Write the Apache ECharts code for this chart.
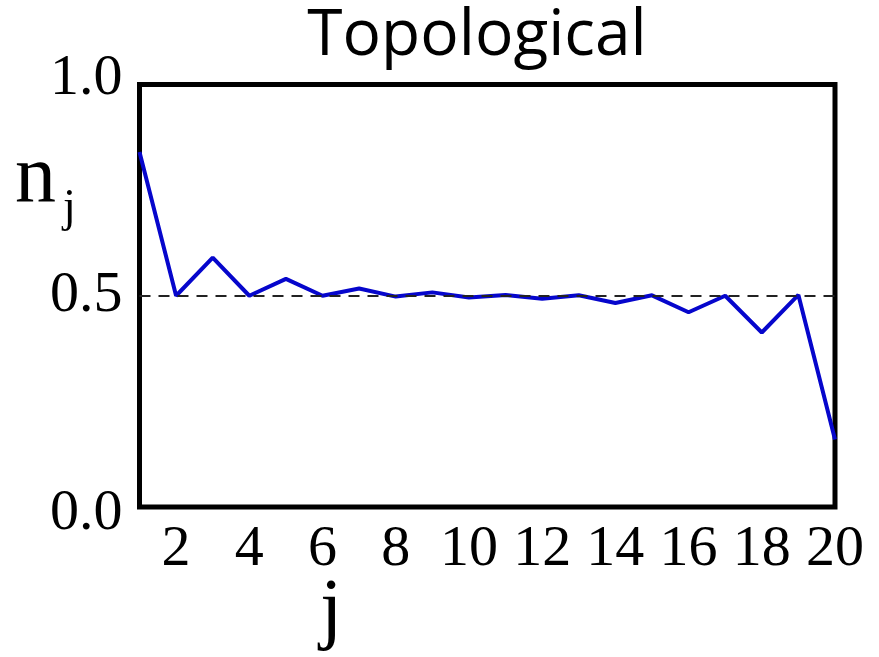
<!DOCTYPE html>
<html>
<head>
<meta charset="utf-8">
<script src="https://cdn.jsdelivr.net/npm/echarts@6/dist/echarts.min.js"></script>
<style>
  html, body { margin: 0; padding: 0; background: #fff; }
  #chart { width: 879px; height: 657px; }
</style>
</head>
<body>
<div id="chart"></div>
<script>
// j = 1..20, n_j
var jValues = [1, 2, 3, 4, 5, 6, 7, 8, 9, 10, 11, 12, 13, 14, 15, 16, 17, 18, 19, 20];
var nValues = [0.84, 0.50, 0.59, 0.50, 0.54, 0.50, 0.517, 0.498, 0.508, 0.496,
               0.502, 0.493, 0.501, 0.483, 0.501, 0.461, 0.50, 0.413, 0.502, 0.16];
var yTicks = [0, 0.5, 1.0];
var refLevel = 0.5;

var points = [];
for (var i = 0; i < jValues.length; i++) {
  points.push([jValues[i], nValues[i]]);
}

var serif = 'Liberation Serif';
var chart = echarts.init(document.getElementById('chart'));

chart.setOption({
  animation: false,
  title: {
    text: 'Topological',
    left: 472,
    textAlign: 'center',
    top: 0,
    textStyle: {
      fontFamily: 'Open Sans',
      fontWeight: 'normal',
      fontSize: 64,
      color: '#000'
    }
  },
  grid: {
    left: 139.5,
    right: 44,
    top: 84.5,
    bottom: 150,
    show: true,
    borderColor: '#000',
    borderWidth: 5
  },
  xAxis: {
    type: 'value',
    min: 1,
    max: 20,
    interval: 1,
    axisLine: { show: false },
    axisTick: { show: false },
    splitLine: { show: false },
    axisLabel: {
      margin: 14,
      fontFamily: serif,
      fontSize: 58,
      color: '#000',
      formatter: function (v) {
        return v % 2 === 0 ? String(v) : '';
      }
    }
  },
  yAxis: {
    type: 'value',
    min: yTicks[0],
    max: yTicks[yTicks.length - 1],
    interval: 0.5,
    axisLine: { show: false },
    axisTick: { show: false },
    splitLine: { show: false },
    axisLabel: {
      margin: 17,
      color: '#000',
      formatter: function (v) {
        if (v === 1) return '{hi|' + v.toFixed(1) + '}';
        if (v === 0) return '{lo|' + v.toFixed(1) + '}';
        return '{mid|' + v.toFixed(1) + '}';
      },
      rich: {
        hi: { fontFamily: serif, fontSize: 58, color: '#000', padding: [0, 0, 12, 0] },
        mid: { fontFamily: serif, fontSize: 58, color: '#000' },
        lo: { fontFamily: serif, fontSize: 58, color: '#000', padding: [14, 0, 0, 0] }
      }
    }
  },
  graphic: [
    {
      type: 'text',
      left: 15,
      top: 138,
      style: {
        text: 'n',
        fontFamily: serif,
        fontSize: 82,
        fill: '#000'
      }
    },
    {
      type: 'text',
      left: 63,
      top: 186,
      style: {
        text: 'j',
        fontFamily: serif,
        fontSize: 46,
        fill: '#000'
      }
    },
    {
      type: 'text',
      left: 320,
      top: 573,
      style: {
        text: 'j',
        fontFamily: serif,
        fontSize: 80,
        fill: '#000'
      }
    }
  ],
  series: [{
    type: 'line',
    data: points,
    showSymbol: false,
    lineStyle: {
      color: '#0606cc',
      width: 4
    },
    markLine: {
      silent: true,
      symbol: 'none',
      label: { show: false },
      lineStyle: {
        color: '#222',
        width: 2,
        type: [11, 8]
      },
      data: [{ yAxis: refLevel }]
    },
    z: 3
  }]
});
</script>
</body>
</html>
